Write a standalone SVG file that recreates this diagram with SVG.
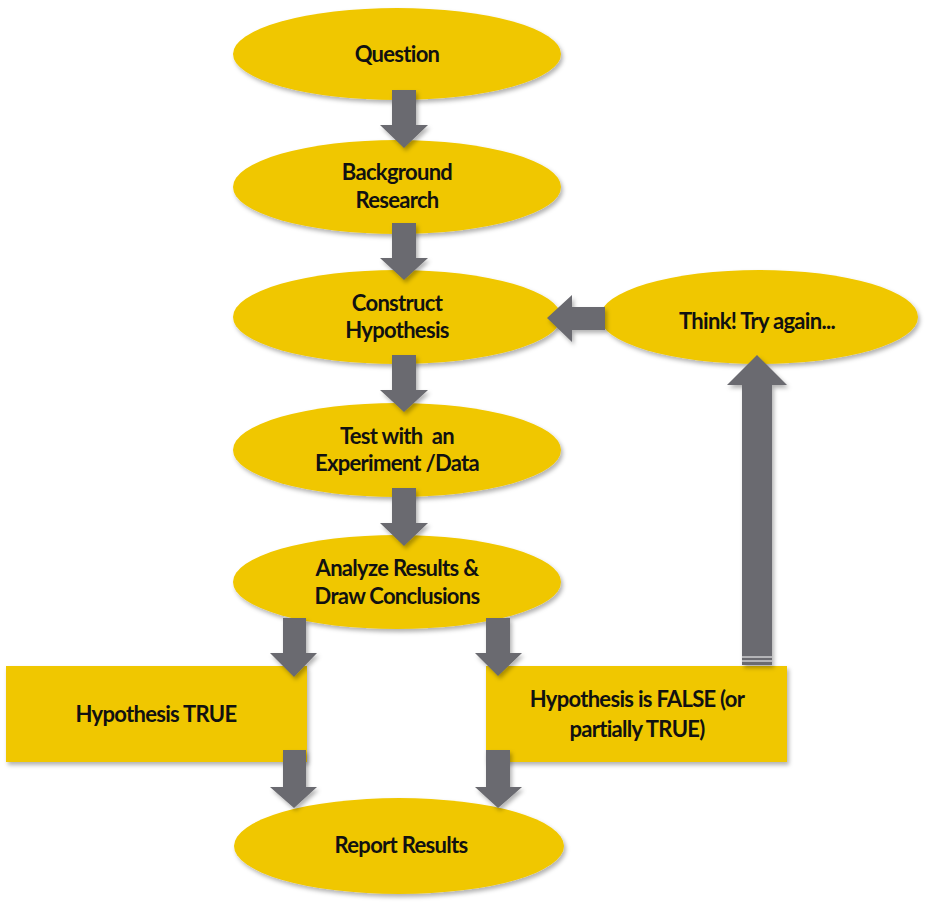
<svg xmlns="http://www.w3.org/2000/svg" width="931" height="907" viewBox="0 0 931 907">
<defs>
<filter id="sh" x="-10%" y="-10%" width="125%" height="130%">
<feDropShadow dx="2" dy="3" stdDeviation="2" flood-color="#000" flood-opacity="0.3"/>
</filter>
</defs>
<style>
.n{fill:#F0C700;filter:url(#sh)}
.a{fill:#6A6A6F;filter:url(#sh)}
.t{font-family:Lato,"Open Sans",sans-serif;font-weight:bold;font-size:22px;fill:#111;text-anchor:middle;letter-spacing:-0.7px;white-space:pre}
</style>
<rect width="931" height="907" fill="#fff"/>
<g id="question"><ellipse class="n" cx="397" cy="54" rx="164" ry="46"/><text class="t" x="397" y="62">Question</text></g>
<g id="background"><ellipse class="n" cx="397" cy="187" rx="164" ry="47"/><text class="t" x="397" y="180">Background</text><text class="t" x="397" y="208">Research</text></g>
<g id="construct"><ellipse class="n" cx="397" cy="317" rx="164" ry="47"/><text class="t" x="397" y="311">Construct</text><text class="t" x="397" y="338">Hypothesis</text></g>
<g id="think"><ellipse class="n" cx="759" cy="317" rx="159" ry="47"/><text class="t" x="757" y="329">Think! Try again...</text></g>
<g id="test"><ellipse class="n" cx="397" cy="450" rx="164" ry="47"/><text class="t" x="397" y="444" xml:space="preserve">Test with  an</text><text class="t" x="397" y="471">Experiment /Data</text></g>
<g id="analyze"><ellipse class="n" cx="397" cy="582" rx="164" ry="47"/><text class="t" x="397" y="576">Analyze Results &amp;</text><text class="t" x="397" y="604">Draw Conclusions</text></g>
<g id="true"><rect class="n" x="6" y="666" width="301" height="96"/><text class="t" x="156" y="722">Hypothesis TRUE</text></g>
<g id="false"><rect class="n" x="486" y="666" width="301" height="96"/><text class="t" x="637" y="707">Hypothesis is FALSE (or</text><text class="t" x="637" y="737">partially TRUE)</text></g>
<g id="report"><ellipse class="n" cx="399" cy="846" rx="165" ry="48"/><text class="t" x="401" y="853">Report Results</text></g>
<g id="connectors">
<path class="a" d="M392 90H416V125H428L404 148L380 125H392Z"/>
<path class="a" d="M392 223H416V258H428L404 280L380 258H392Z"/>
<path class="a" d="M392 355H416V390H428L404 412L380 390H392Z"/>
<path class="a" d="M392 488H416V523H428L404 546L380 523H392Z"/>
<path class="a" d="M605 307V330H572V342L547 318L572 295V307Z"/>
<path class="a" d="M742 665V385H727L757 355L787 385H772V665Z"/>
<line x1="742" y1="657" x2="772" y2="657" stroke="#fff" stroke-width="1"/>
<line x1="742" y1="661" x2="772" y2="661" stroke="#fff" stroke-width="1"/>
<path class="a" d="M283 618H306V653H317L294 677L270 653H283Z"/>
<path class="a" d="M486 618H510V653H522L498 676L475 653H486Z"/>
<path class="a" d="M283 750H306V787H317L294 808L270 787H283Z"/>
<path class="a" d="M486 750H510V787H522L498 808L475 787H486Z"/>
</g>
</svg>
